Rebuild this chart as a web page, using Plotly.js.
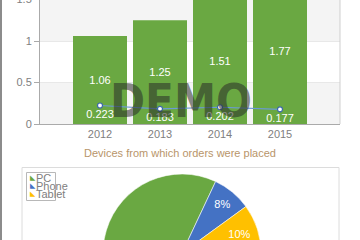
<!DOCTYPE html>
<html>
<head>
<meta charset="utf-8">
<script src="https://cdn.plot.ly/plotly-3.0.1.min.js"></script>
<style>
  html, body { margin: 0; padding: 0; width: 360px; height: 240px; overflow: hidden; background: #fff; }
  #wrap { position: relative; width: 360px; height: 240px; overflow: hidden; }
  #chart { position: absolute; left: 0; top: -50px; width: 360px; height: 400px; }
  #edge { position: absolute; left: 0; top: 0; width: 2px; height: 240px; background: #8c8c8c; z-index: 5; }
</style>
</head>
<body>
<div id="wrap">
  <div id="chart"></div>
  <div id="edge"></div>
</div>
<script>
// ---- data ----
const years = ['2012', '2013', '2014', '2015'];
const barValues = [1.06, 1.25, 1.51, 1.77];
const lineValues = [0.223, 0.183, 0.202, 0.177];
const yTickVals = [0, 0.5, 1, 1.5, 2];
const yTickText = ['0', '0.5', '1', '1.5', '2'];
const pieTitle = 'Devices from which orders were placed';
const deviceLabels = ['PC', 'Phone', 'Tablet'];
const deviceShares = [82, 8, 10];
const deviceColors = ['#6aa842', '#4472c4', '#ffc000'];
const watermark = 'DEMO';

// helpers: pixel (page) -> paper coords; div is 360x400 shifted up 50px
const W = 360, H = 400, OFF = 50;
const px = x => x / W;
const py = y => 1 - (y + OFF) / H;

const FONT = 'Liberation Sans, Arial, sans-serif';

const traces = [
  {
    type: 'bar',
    x: years,
    y: barValues,
    marker: { color: '#6aa842', line: { width: 0 } },
    text: barValues.map(String),
    textposition: 'inside',
    insidetextanchor: 'middle',
    textfont: { color: '#ffffff', size: 11, family: FONT },
    constraintext: 'none',
    hoverinfo: 'skip',
    showlegend: false,
    xaxis: 'x', yaxis: 'y'
  },
  {
    type: 'scatter',
    mode: 'lines+markers+text',
    x: years,
    y: lineValues,
    line: { color: '#6b9ad6', width: 1.2 },
    marker: { size: 5, color: '#ffffff', line: { color: '#3b68ad', width: 1.2 } },
    text: lineValues.map(String),
    textposition: 'bottom center',
    textfont: { color: '#ffffff', size: 11, family: FONT },
    cliponaxis: false,
    hoverinfo: 'skip',
    showlegend: false,
    xaxis: 'x', yaxis: 'y'
  },
  {
    type: 'pie',
    labels: deviceLabels,
    values: deviceShares,
    sort: false,
    direction: 'clockwise',
    rotation: 90,
    marker: { colors: deviceColors, line: { color: 'rgba(255,255,255,0.7)', width: 0.8 } },
    textinfo: 'percent',
    textposition: 'inside',
    insidetextorientation: 'horizontal',
    textfont: { color: '#ffffff', size: 11, family: FONT },
    domain: { x: [px(103), px(261)], y: [py(332), py(174)] },
    hoverinfo: 'skip',
    showlegend: false
  }
];

const shapes = [
  // horizontal background bands of the bar plot
  { type: 'rect', xref: 'x domain', yref: 'y', x0: 0, x1: 1, y0: 0, y1: 0.5, fillcolor: '#f4f4f4', line: { width: 0 }, layer: 'below' },
  { type: 'rect', xref: 'x domain', yref: 'y', x0: 0, x1: 1, y0: 1, y1: 1.5, fillcolor: '#f4f4f4', line: { width: 0 }, layer: 'below' },
  // right border of bar plot
  { type: 'line', xref: 'x domain', yref: 'y', x0: 1, x1: 1, y0: 0, y1: 2, line: { color: '#cfcfcf', width: 1 } },
  // pie chart frame
  { type: 'rect', xref: 'paper', yref: 'paper', x0: px(22), x1: px(339), y0: 0, y1: py(167.5), line: { color: '#dcdcdc', width: 1 }, fillcolor: 'rgba(0,0,0,0)', layer: 'below' },
  // legend frame
  { type: 'rect', xref: 'paper', yref: 'paper', x0: px(26.5), x1: px(55.5), y0: py(200.5), y1: py(172.5), line: { color: '#b8b8b8', width: 1 }, fillcolor: 'rgba(0,0,0,0)' }
];

const annotations = [
  { text: pieTitle, xref: 'paper', yref: 'paper', x: px(180), y: py(153), showarrow: false,
    font: { family: FONT, size: 11, color: '#b8956a' }, xanchor: 'center', yanchor: 'middle' },
  { text: watermark, xref: 'paper', yref: 'paper', x: px(181), y: py(101), showarrow: false,
    font: { family: 'Liberation Sans Narrow, DejaVu Sans Condensed, Arial Narrow, sans-serif', size: 47, weight: 'bold', color: 'rgba(40,40,40,0.55)' },
    xanchor: 'center', yanchor: 'middle' }
];

// manual legend built from the device arrays
deviceLabels.forEach((lab, i) => {
  const yc = 178 + i * 8;
  annotations.push({ text: '◣', xref: 'paper', yref: 'paper', x: px(28), y: py(yc), showarrow: false,
    font: { family: 'DejaVu Sans', size: 7, color: deviceColors[i] }, xanchor: 'left', yanchor: 'middle' });
  annotations.push({ text: lab, xref: 'paper', yref: 'paper', x: px(34), y: py(yc), showarrow: false,
    font: { family: FONT, size: 11, color: '#808080' }, xanchor: 'left', yanchor: 'middle' });
});

const layout = {
  width: W, height: H,
  margin: { l: 0, r: 0, t: 0, b: 0, pad: 0 },
  paper_bgcolor: '#ffffff',
  plot_bgcolor: '#ffffff',
  font: { family: FONT, size: 11, color: '#808080' },
  bargap: 0.1,
  showlegend: false,
  xaxis: {
    domain: [px(40), px(340)],
    type: 'category',
    range: [-1, 4],
    showline: true, linecolor: '#aaaaaa', linewidth: 1,
    ticks: '', showgrid: false, zeroline: false,
    tickfont: { family: FONT, size: 11, color: '#808080' },
    fixedrange: true
  },
  yaxis: {
    domain: [py(124), py(-42)],
    range: [0, 2],
    tickvals: yTickVals, ticktext: yTickText,
    showline: true, linecolor: '#aaaaaa', linewidth: 1,
    ticks: 'outside', ticklen: 5, tickcolor: '#aaaaaa',
    showgrid: true, gridcolor: '#e8e8e8', zeroline: false,
    tickfont: { family: FONT, size: 11, color: '#808080' },
    fixedrange: true
  },
  shapes: shapes,
  annotations: annotations
};

Plotly.newPlot('chart', traces, layout, { staticPlot: true, displayModeBar: false });
</script>
</body>
</html>
